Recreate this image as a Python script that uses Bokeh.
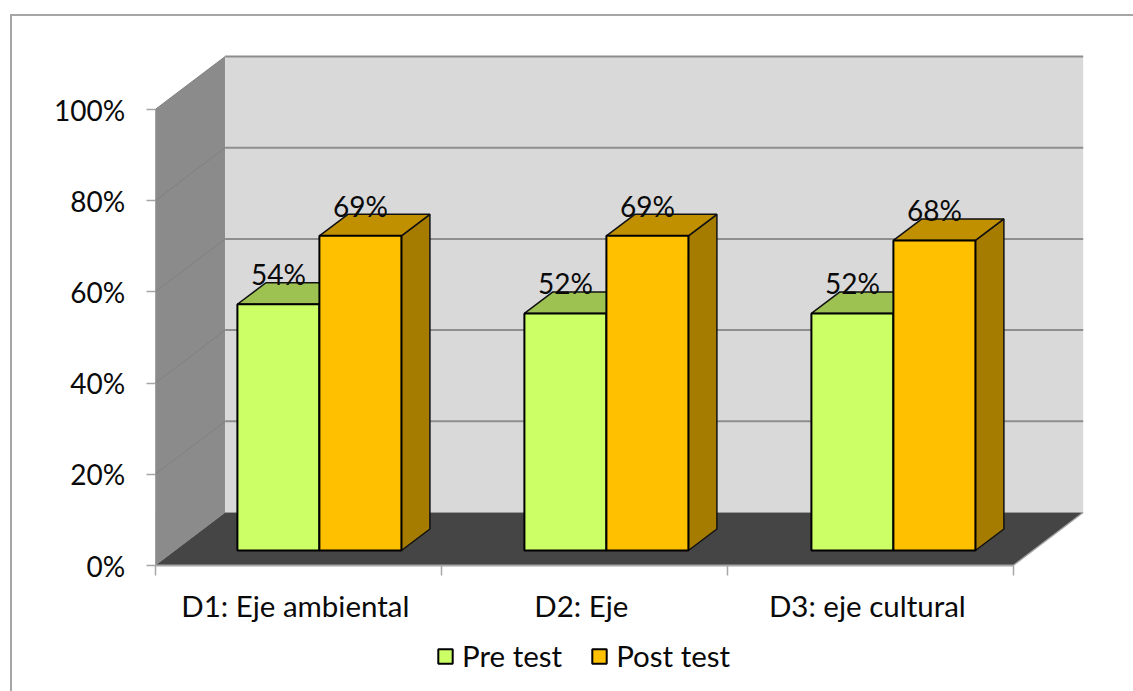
from bokeh.plotting import figure
from bokeh.embed import file_html
from bokeh.resources import INLINE
from bokeh.core.properties import value
from bokeh.models import (Range1d, LinearAxis, FixedTicker, PrintfTickFormatter,
                          Legend, LegendItem, InlineStyleSheet)

categories = ["D1: Eje ambiental", "D2: Eje", "D3: eje cultural"]
pre_test = [54, 52, 52]
post_test = [69, 69, 68]
series_names = ["Pre test", "Post test"]
value_ticks = [0, 20, 40, 60, 80, 100]

FONT = "Lato"
FS = "29.5px"
FS_NUM = "28px"
TXT = "#0a0a0a"

W, H = 1133, 691
PX_CAT, PX_PCT = 286, 4.56          # pixels per category, pixels per percent
OX, OY = 154.7, 565                 # where the origin of the front plane sits

# 3-D geometry in data units
WD, WH = 70 / PX_CAT, 53 / PX_PCT       # depth of the walls
BD, BH = 28.5 / PX_CAT, 21.5 / PX_PCT   # depth of one bar
BASE = 15 / PX_PCT                      # bars stand this far up the floor
X0, BW = 82.2 / PX_CAT, 82 / PX_CAT     # first bar offset, bar width
STEP = 287 / PX_CAT                     # distance between bar groups
n = len(categories)

border_css = InlineStyleSheet(css=""":host::after{content:'';position:absolute;left:10px;top:14px;right:0;bottom:0;
border-left:2px solid #A6A6A6;border-top:2px solid #A6A6A6;pointer-events:none;}""")

p = figure(width=W, height=H, output_backend="svg", toolbar_location=None,
           x_range=Range1d(-OX / PX_CAT, (W - OX) / PX_CAT),
           y_range=Range1d(-(H - OY) / PX_PCT, OY / PX_PCT),
           x_axis_type=None, y_axis_type=None,
           min_border=0, background_fill_color="white", border_fill_color="white",
           outline_line_color=None, stylesheets=[border_css])
p.grid.visible = False

# walls and floor
p.patch([0, WD, WD, 0], [0, WH, 100 + WH, 100], fill_color="#8B8B8B", line_color=None)
p.patch([WD, n + WD, n + WD, WD], [WH, WH, 100 + WH, 100 + WH], fill_color="#D9D9D9", line_color=None)
p.segment([WD] * 5, [t + WH for t in value_ticks[1:]], [n + WD] * 5, [t + WH for t in value_ticks[1:]],
          line_color="#8E8E8E", line_width=2)
p.segment([0] * 5, value_ticks[1:], [WD] * 5, [t + WH for t in value_ticks[1:]],
          line_color="#808080", line_width=1)
p.patch([0, n, n + WD, WD], [0, 0, WH, WH], fill_color="#454545", line_color=None)
p.line([n, n + WD], [0, WH], line_color="#A6A6A6", line_width=1.5)


def bar(vals, off, front, top, side):
    lefts = [i * STEP + X0 + off * BW for i in range(n)]
    rights = [x + BW for x in lefts]
    tops = [BASE + v for v in vals]
    p.patches([[r, r + BD, r + BD, r] for r in rights],
              [[BASE, BASE + BH, t + BH, t] for t in tops],
              fill_color=side, line_color="#111111", line_width=1.5)
    p.patches([[l, l + BD, r + BD, r] for l, r in zip(lefts, rights)],
              [[t, t + BH, t + BH, t] for t in tops],
              fill_color=top, line_color="#111111", line_width=1.5)
    return p.vbar(x=[(l + r) / 2 for l, r in zip(lefts, rights)], width=BW,
                  bottom=BASE, top=tops, fill_color=front, line_color="#000000", line_width=2)


r_pre = bar(pre_test, 0, "#CCFF66", "#9DC252", "#8AA83F")
r_post = bar(post_test, 1, "#FFC000", "#C09000", "#A67C00")

# data labels
for vals, off in ((pre_test, 0), (post_test, 1)):
    p.text(x=[i * STEP + X0 + off * BW + BW / 2 for i in range(n)],
           y=[BASE + v + 6.6 for v in vals],
           text=[f"{v}%" for v in vals],
           text_font=value(FONT), text_font_size=value(FS_NUM), text_color=TXT,
           text_align="center", text_baseline="middle")

# axes, pinned at the front plane inside the frame
yax = LinearAxis(ticker=FixedTicker(ticks=value_ticks), bounds=(0, 100), fixed_location=0,
                 formatter=PrintfTickFormatter(format="%d%%"))
yax.axis_line_color = None
yax.major_tick_line_color = "#A6A6A6"
yax.major_tick_line_width = 1.5
yax.major_tick_in = 0
yax.major_tick_out = 9
yax.minor_tick_line_color = None
yax.major_label_standoff = 21
yax.major_label_text_font = FONT
yax.major_label_text_font_size = FS_NUM
yax.major_label_text_color = TXT
p.add_layout(yax, "left")

label_ticks = [i + 0.49 for i in range(n)]
xax = LinearAxis(ticker=FixedTicker(ticks=label_ticks, minor_ticks=list(range(n + 1))),
                 bounds=(0, n), fixed_location=0)
xax.major_label_overrides = dict(zip(label_ticks, categories))
xax.axis_line_color = "#A6A6A6"
xax.axis_line_width = 2
xax.major_tick_line_color = None
xax.major_tick_in = 0
xax.major_tick_out = 0
xax.minor_tick_line_color = "#A6A6A6"
xax.minor_tick_line_width = 1.5
xax.minor_tick_in = 0
xax.minor_tick_out = 10
xax.major_label_standoff = 12
xax.major_label_text_font = FONT
xax.major_label_text_font_size = FS
xax.major_label_text_color = TXT
p.add_layout(xax, "below")

legend = Legend(items=[LegendItem(label=series_names[0], renderers=[r_pre]),
                       LegendItem(label=series_names[1], renderers=[r_post])],
                orientation="horizontal", location=(436, 18),
                background_fill_alpha=0, border_line_color=None,
                padding=0, margin=0, spacing=28, label_standoff=8,
                glyph_width=18, glyph_height=18, label_height=18,
                label_text_font=FONT, label_text_font_size=FS, label_text_color=TXT)
p.add_layout(legend, "center")

open("out.html", "w").write(file_html(p, INLINE))
